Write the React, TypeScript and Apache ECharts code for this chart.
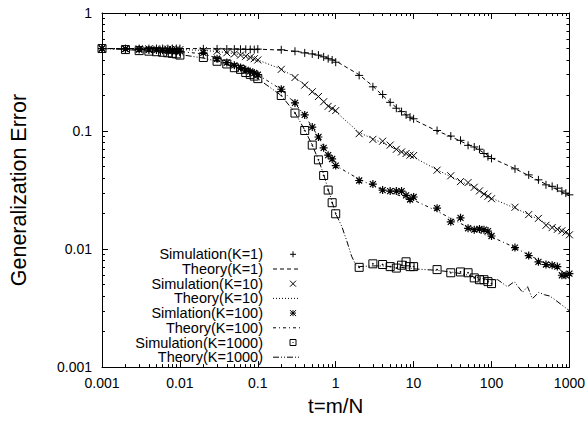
import React, { useEffect, useRef } from 'react';
import * as echarts from 'echarts';

const W = 588;
const H = 421;
const FONT = '"Liberation Sans", Arial, Helvetica, sans-serif';

// sampling times t = m/N
const T = [
  0.001, 0.002, 0.003, 0.004, 0.005, 0.006, 0.007, 0.008, 0.009,
  0.01, 0.02, 0.03, 0.04, 0.05, 0.06, 0.07, 0.08, 0.09,
  0.1, 0.2, 0.3, 0.4, 0.5, 0.6, 0.7, 0.8, 0.9,
  1, 2, 3, 4, 5, 6, 7, 8, 9,
  10, 20, 30, 40, 50, 60, 70, 80, 90,
  100, 200, 300, 400, 500, 600, 700, 800, 900,
  1000,
];

const simK1 = [
  0.5, 0.5, 0.5, 0.499, 0.5, 0.5, 0.499, 0.5, 0.5,
  0.5, 0.497, 0.496, 0.495, 0.494, 0.493, 0.492, 0.491, 0.49,
  0.494, 0.488, 0.474, 0.459, 0.45, 0.44, 0.425, 0.41, 0.4,
  0.383, 0.296, 0.237, 0.204, 0.175, 0.156, 0.146, 0.137, 0.131,
  0.127, 0.101, 0.0906, 0.0834, 0.0756, 0.0733, 0.0701, 0.0645, 0.0607,
  0.0586, 0.0478, 0.0425, 0.0386, 0.035, 0.034, 0.0328, 0.031, 0.0298,
  0.0288,
];
const theoryK1 = [
  0.5, 0.5, 0.5, 0.5, 0.5, 0.5, 0.5, 0.5, 0.5,
  0.5, 0.499, 0.498, 0.497, 0.497, 0.496, 0.496, 0.495, 0.495,
  0.494, 0.485, 0.474, 0.462, 0.45, 0.438, 0.426, 0.414, 0.403,
  0.392, 0.3, 0.24, 0.2, 0.175, 0.158, 0.146, 0.137, 0.13,
  0.125, 0.1, 0.09, 0.082, 0.077, 0.073, 0.069, 0.065, 0.062,
  0.059, 0.048, 0.042, 0.038, 0.0355, 0.0335, 0.0318, 0.0303, 0.0292,
  0.0282,
];
const simK10 = [
  0.5, 0.499, 0.498, 0.497, 0.496, 0.495, 0.494, 0.493, 0.492,
  0.49, 0.48, 0.474, 0.46, 0.45, 0.44, 0.43, 0.42, 0.41,
  0.4, 0.333, 0.284, 0.245, 0.215, 0.196, 0.177, 0.162, 0.155,
  0.149, 0.095, 0.085, 0.082, 0.076, 0.07, 0.0665, 0.0645, 0.0625,
  0.062, 0.0466, 0.0418, 0.0373, 0.0366, 0.0334, 0.0311, 0.0292, 0.028,
  0.0267, 0.0226, 0.0196, 0.0182, 0.0159, 0.0152, 0.0147, 0.0143, 0.0139,
  0.0132,
];
const theoryK10 = [
  0.5, 0.499, 0.498, 0.497, 0.496, 0.495, 0.494, 0.493, 0.492,
  0.49, 0.482, 0.472, 0.462, 0.452, 0.442, 0.432, 0.422, 0.412,
  0.4, 0.335, 0.285, 0.247, 0.218, 0.196, 0.179, 0.165, 0.155,
  0.146, 0.097, 0.086, 0.079, 0.074, 0.07, 0.0665, 0.064, 0.0618,
  0.06, 0.047, 0.041, 0.0375, 0.035, 0.033, 0.031, 0.0295, 0.0282,
  0.027, 0.0222, 0.0196, 0.0179, 0.0166, 0.0156, 0.0148, 0.0141, 0.0136,
  0.0131,
];
const simK100 = [
  0.5, 0.495, 0.49, 0.487, 0.485, 0.483, 0.48, 0.478, 0.475,
  0.475, 0.46, 0.41, 0.38, 0.36, 0.345, 0.33, 0.32, 0.31,
  0.3, 0.226, 0.173, 0.137, 0.108, 0.089, 0.072, 0.0625, 0.058,
  0.051, 0.0381, 0.0355, 0.0316, 0.031, 0.031, 0.031, 0.0285, 0.0263,
  0.0276, 0.0222, 0.017, 0.0184, 0.015, 0.0146, 0.0148, 0.0146, 0.0142,
  0.0129, 0.0103, 0.0088, 0.0078, 0.0074, 0.0073, 0.0071, 0.006, 0.006,
  0.0062,
];
const theoryK100 = [
  0.5, 0.496, 0.492, 0.489, 0.486, 0.483, 0.48, 0.477, 0.474,
  0.472, 0.45, 0.415, 0.385, 0.36, 0.345, 0.332, 0.32, 0.31,
  0.3, 0.225, 0.172, 0.135, 0.108, 0.089, 0.074, 0.064, 0.057,
  0.051, 0.039, 0.0345, 0.0318, 0.0302, 0.029, 0.028, 0.0272, 0.0265,
  0.026, 0.021, 0.0182, 0.0165, 0.0153, 0.0145, 0.0138, 0.0133, 0.0129,
  0.0127, 0.0103, 0.0089, 0.0081, 0.0075, 0.0071, 0.0068, 0.0065, 0.0063,
  0.0061,
];
// simulation K=1000 stops at t = 100
const simK1000 = [
  0.5, 0.49, 0.48, 0.475, 0.47, 0.465, 0.46, 0.455, 0.45,
  0.44, 0.42, 0.39, 0.37, 0.344, 0.333, 0.313, 0.302, 0.292,
  0.278, 0.2, 0.142, 0.101, 0.076, 0.057, 0.042, 0.0316, 0.0247,
  0.0199, 0.007, 0.0075, 0.0074, 0.0071, 0.0069, 0.0073, 0.0078, 0.0071,
  0.0071, 0.0067, 0.0063, 0.0064, 0.0063, 0.0057, 0.0055, 0.0055, 0.0053,
  0.0051,
];
const theoryK1000T = [
  0.001, 0.002, 0.003, 0.004, 0.005, 0.006, 0.007, 0.008, 0.009,
  0.01, 0.02, 0.03, 0.04, 0.05, 0.06, 0.07, 0.08, 0.09,
  0.1, 0.2, 0.3, 0.4, 0.5, 0.6, 0.7, 0.8, 0.9,
  1, 1.2, 1.4, 1.6, 1.8, 2, 3, 4, 5, 6, 7, 8, 9,
  10, 20, 30, 40, 50, 60, 70, 80, 90, 100,
  120, 160, 196, 250, 290, 335, 405, 480, 560, 660, 1000,
];
const theoryK1000 = [
  0.5, 0.49, 0.482, 0.476, 0.47, 0.465, 0.46, 0.455, 0.45,
  0.445, 0.415, 0.39, 0.365, 0.345, 0.33, 0.315, 0.303, 0.29,
  0.278, 0.2, 0.143, 0.102, 0.076, 0.057, 0.043, 0.032, 0.025,
  0.0199, 0.0155, 0.0115, 0.0087, 0.0074, 0.0071, 0.0072, 0.0072, 0.0071, 0.007, 0.007, 0.0069, 0.0069,
  0.0068, 0.0066, 0.0064, 0.0062, 0.006, 0.0058, 0.0057, 0.0056, 0.0055, 0.0055,
  0.0055, 0.0048, 0.0053, 0.0043, 0.0048, 0.0038, 0.0043, 0.0041, 0.004, 0.0037, 0.003,
];

const xMajor = [0.001, 0.01, 0.1, 1, 10, 100, 1000];
const xTickLabels = ['0.001', '0.01', '0.1', '1', '10', '100', '1000'];
const yMajor = [0.001, 0.01, 0.1, 1];
const yTickLabels = ['0.001', '0.01', '0.1', '1'];

const legendLabels = [
  'Simulation(K=1)', 'Theory(K=1)',
  'Simulation(K=10)', 'Theory(K=10)',
  'Simlation(K=100)', 'Theory(K=100)',
  'Simulation(K=1000)', 'Theory(K=1000)',
];

const minorsOf = (majors: number[]) => {
  const out: number[] = [];
  for (let i = 0; i < majors.length - 1; i++) {
    for (let k = 2; k <= 9; k++) out.push(parseFloat((majors[i] * k).toPrecision(6)));
  }
  return out;
};

const labelFor = (majors: number[], labels: string[]) => (v: number) => {
  let best = 0;
  let bd = Infinity;
  majors.forEach((m, i) => {
    const d = Math.abs(Math.log10(v) - Math.log10(m));
    if (d < bd) { bd = d; best = i; }
  });
  return labels[best];
};

const PLUS = 'path://M0,4L8,4M4,0L4,8';
const CROSS = 'path://M0,0L7,7M7,0L0,7';
const STAR = 'path://M0,4L8,4M4,0L4,8M1,1L7,7M7,1L1,7';
const BOXDOT = 'path://M0,0L8,0L8,8L0,8ZM3.6,3.6L4.4,3.6L4.4,4.4L3.6,4.4Z';

const DASH1 = [4, 3];
const DASH10 = [1, 2];
const DASH100 = [3, 3, 1, 3];
const DASH1000 = [6, 2, 1, 2, 1, 2];

function buildOption() {
  const zip = (xs: number[], ys: number[]) => ys.map((y, i) => [xs[i], y]);

  const mkAxisX = (position: 'top' | 'bottom', values: number[], len: number, line: boolean, labels: boolean, extra: any = {}) => ({
    type: 'log', logBase: 10, min: 0.001, max: 1000, position,
    gridIndex: 0,
    axisLine: { show: line, lineStyle: { color: '#000', width: 1 } },
    axisTick: { show: true, inside: true, length: len, customValues: values, lineStyle: { color: '#000', width: 1 } },
    axisLabel: {
      show: labels, customValues: values, margin: 9, color: '#000', fontSize: 14, fontFamily: FONT,
      formatter: labelFor(xMajor, xTickLabels),
    },
    splitLine: { show: false }, minorTick: { show: false }, minorSplitLine: { show: false },
    ...extra,
  });
  const mkAxisY = (position: 'left' | 'right', values: number[], len: number, line: boolean, labels: boolean, extra: any = {}) => ({
    type: 'log', logBase: 10, min: 0.001, max: 1, position,
    gridIndex: 0,
    axisLine: { show: line, lineStyle: { color: '#000', width: 1 } },
    axisTick: { show: true, inside: true, length: len, customValues: values, lineStyle: { color: '#000', width: 1 } },
    axisLabel: {
      show: labels, customValues: values, margin: 10, color: '#000', fontSize: 14, fontFamily: FONT,
      formatter: labelFor(yMajor, yTickLabels),
    },
    splitLine: { show: false }, minorTick: { show: false }, minorSplitLine: { show: false },
    ...extra,
  });

  const xMinor = minorsOf(xMajor);
  const yMinor = minorsOf(yMajor);

  const lineSeries = (name: string, data: number[][], dash: number[]) => ({
    name, type: 'line', data, xAxisIndex: 0, yAxisIndex: 0,
    symbol: 'none', showSymbol: false, silent: true, z: 2,
    lineStyle: { color: '#000', width: 1, type: dash },
  });
  const scatterSeries = (name: string, data: number[][], symbol: string, size: number, bw = 1) => ({
    name, type: 'scatter', data, xAxisIndex: 0, yAxisIndex: 0,
    symbol, symbolSize: size, silent: true, z: 3,
    itemStyle: { color: 'transparent', borderColor: '#000', borderWidth: bw, opacity: 1 },
  });

  // legend drawn as a key box inside the plot
  const rowY = [254.3, 269, 283.7, 298.4, 313.1, 327.8, 342.5, 357.2];
  const textRight = 263;
  const sx1 = 273, sx2 = 300, mx = 293;
  const ln = (x1: number, y1: number, x2: number, y2: number, dash?: number[]) => ({
    type: 'line', silent: true,
    shape: { x1, y1, x2, y2 },
    style: { stroke: '#000', lineWidth: 1, lineDash: dash || null },
  });
  const marker = (kind: string, cx: number, cy: number): any[] => {
    const r = 3;
    if (kind === 'plus') return [ln(cx - r, cy, cx + r, cy), ln(cx, cy - r, cx, cy + r)];
    if (kind === 'cross') return [ln(cx - r, cy - r, cx + r, cy + r), ln(cx - r, cy + r, cx + r, cy - r)];
    if (kind === 'star') return [
      ln(cx - r, cy, cx + r, cy), ln(cx, cy - r, cx, cy + r),
      ln(cx - r, cy - r, cx + r, cy + r), ln(cx - r, cy + r, cx + r, cy - r),
    ];
    return [
      { type: 'rect', silent: true, shape: { x: cx - r, y: cy - r, width: 2 * r, height: 2 * r }, style: { fill: 'none', stroke: '#000', lineWidth: 1 } },
      { type: 'rect', silent: true, shape: { x: cx - 0.5, y: cy - 0.5, width: 1, height: 1 }, style: { fill: '#000' } },
    ];
  };
  const keyKinds: any[] = [
    { m: 'plus' }, { d: DASH1 }, { m: 'cross' }, { d: DASH10 },
    { m: 'star' }, { d: DASH100 }, { m: 'box' }, { d: DASH1000 },
  ];
  const legendEls: any[] = [];
  legendLabels.forEach((txt, i) => {
    const y = rowY[i];
    legendEls.push({
      type: 'text', silent: true, x: textRight, y,
      style: { text: txt, fontSize: 14.5, fontFamily: FONT, fill: '#000', align: 'right', verticalAlign: 'middle' },
    });
    const k = keyKinds[i];
    if (k.m) legendEls.push(...marker(k.m, mx, y));
    else legendEls.push(ln(sx1, y, sx2, y, k.d));
  });

  return {
    animation: false,
    backgroundColor: '#fff',
    textStyle: { fontFamily: FONT },
    grid: { left: 96, right: W - 571, top: 13, bottom: H - 371, containLabel: false, show: false },
    xAxis: [
      mkAxisX('bottom', xMajor, 6, true, true, {
        name: 't=m/N', nameLocation: 'middle', nameGap: 24,
        nameTextStyle: { color: '#000', fontSize: 20.5, fontFamily: FONT },
      }),
      mkAxisX('bottom', xMinor, 3, false, false),
      mkAxisX('top', xMajor, 6, true, false),
      mkAxisX('top', xMinor, 3, false, false),
    ],
    yAxis: [
      mkAxisY('left', yMajor, 6, true, true, {
        name: 'Generalization Error', nameLocation: 'middle', nameGap: 72,
        nameTextStyle: { color: '#000', fontSize: 21.5, fontFamily: FONT },
      }),
      mkAxisY('left', yMinor, 3, false, false),
      mkAxisY('right', yMajor, 6, true, false),
      mkAxisY('right', yMinor, 3, false, false),
    ],
    series: [
      lineSeries('Theory(K=1)', zip(T, theoryK1), DASH1),
      lineSeries('Theory(K=10)', zip(T, theoryK10), DASH10),
      lineSeries('Theory(K=100)', zip(T, theoryK100), DASH100),
      lineSeries('Theory(K=1000)', zip(theoryK1000T, theoryK1000), DASH1000),
      scatterSeries('Simulation(K=1)', zip(T, simK1), PLUS, 8),
      scatterSeries('Simulation(K=10)', zip(T, simK10), CROSS, 7),
      scatterSeries('Simlation(K=100)', zip(T, simK100), STAR, 8, 1.2),
      scatterSeries('Simulation(K=1000)', zip(T, simK1000), BOXDOT, 8),
    ],
    graphic: [{ type: 'group', silent: true, children: legendEls }],
  };
}

export default function App() {
  const ref = useRef<HTMLDivElement>(null);
  useEffect(() => {
    if (!ref.current) return;
    const chart = echarts.init(ref.current, null, { renderer: 'svg', width: W, height: H });
    chart.setOption(buildOption() as any);
    return () => chart.dispose();
  }, []);
  return (
    <div
      ref={ref}
      style={{ position: 'absolute', left: 0, top: 0, width: W, height: H, background: '#fff' }}
    />
  );
}
